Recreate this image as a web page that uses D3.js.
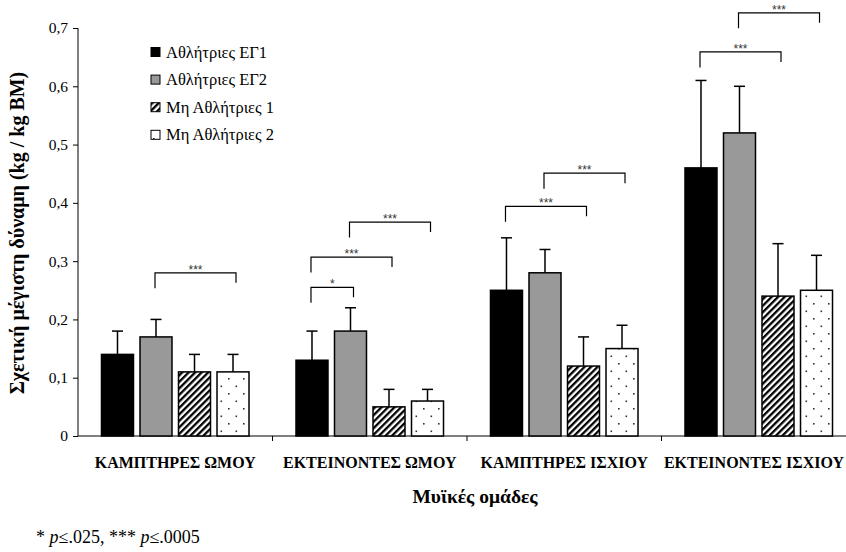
<!DOCTYPE html>
<html>
<head>
<meta charset="utf-8">
<script src="https://cdn.jsdelivr.net/npm/d3@7/dist/d3.min.js"></script>
<style>
  html, body { margin: 0; padding: 0; background: #fff; }
  svg { display: block; }
</style>
</head>
<body>
<script>
const categories = ["ΚΑΜΠΤΗΡΕΣ ΩΜΟΥ", "ΕΚΤΕΙΝΟΝΤΕΣ ΩΜΟΥ", "ΚΑΜΠΤΗΡΕΣ ΙΣΧΙΟΥ", "ΕΚΤΕΙΝΟΝΤΕΣ ΙΣΧΙΟΥ"];
const series = ["Αθλήτριες ΕΓ1", "Αθλήτριες ΕΓ2", "Μη Αθλήτριες 1", "Μη Αθλήτριες 2"];
const meanEG1 = [0.14, 0.13, 0.25, 0.46];
const meanEG2 = [0.17, 0.18, 0.28, 0.52];
const meanNA1 = [0.11, 0.05, 0.12, 0.24];
const meanNA2 = [0.11, 0.06, 0.15, 0.25];
const sdEG1 = [0.04, 0.05, 0.09, 0.15];
const sdEG2 = [0.03, 0.04, 0.04, 0.08];
const sdNA1 = [0.03, 0.03, 0.05, 0.09];
const sdNA2 = [0.03, 0.02, 0.04, 0.06];
const yTicks = [0, 0.1, 0.2, 0.3, 0.4, 0.5, 0.6, 0.7];
const brackCat = [0, 1, 1, 1, 2, 2, 3, 3];
const brackFrom = [1, 0, 0, 1, 0, 1, 0, 1];
const brackTo = [3, 1, 2, 3, 2, 3, 2, 3];
const brackLevel = [0.28, 0.255, 0.307, 0.367, 0.394, 0.451, 0.659, 0.726];
const brackLabel = ["***", "*", "***", "***", "***", "***", "***", "***"];
const yTitle = "Σχετική μέγιστη δύναμη (kg / kg BM)";
const xTitle = "Μυϊκές ομάδες";

const means = [meanEG1, meanEG2, meanNA1, meanNA2];
const sds = [sdEG1, sdEG2, sdNA1, sdNA2];

const W = 846, H = 552;
const svg = d3.select("body").append("svg").attr("width", W).attr("height", H);
const defs = svg.append("defs");

// hatch pattern
const hatch = defs.append("pattern").attr("id", "hatch")
  .attr("patternUnits", "userSpaceOnUse").attr("width", 4.6).attr("height", 4.6)
  .attr("patternTransform", "rotate(45)");
hatch.append("rect").attr("width", 4.6).attr("height", 4.6).attr("fill", "#fff");
hatch.append("rect").attr("width", 2.3).attr("height", 4.6).attr("fill", "#000");

// dotted pattern
const dots = defs.append("pattern").attr("id", "dots")
  .attr("patternUnits", "userSpaceOnUse").attr("width", 15).attr("height", 15);
dots.append("rect").attr("width", 15).attr("height", 15).attr("fill", "#fff");
dots.append("rect").attr("x", 3).attr("y", 3).attr("width", 1.6).attr("height", 1.6).attr("fill", "#333");
dots.append("rect").attr("x", 10.5).attr("y", 10.5).attr("width", 1.6).attr("height", 1.6).attr("fill", "#333");

const fills = ["#000000", "#999999", "url(#hatch)", "url(#dots)"];

const x0 = d3.scaleBand().domain(categories).range([78, 856]).paddingInner(0).paddingOuter(0);
const x1 = d3.scaleBand().domain(series).range([0, x0.bandwidth()]).paddingInner(0.169).paddingOuter(0.61);
const y = d3.scaleLinear().domain([0, 0.7]).range([436, 28]);

const serif = "'Liberation Serif', 'Times New Roman', serif";

// Y axis
const yAxis = svg.append("g").attr("transform", "translate(78,0)")
  .call(d3.axisLeft(y).tickValues(yTicks).tickSize(5).tickPadding(5)
    .tickFormat(d => d === 0 ? "0" : d3.format(".1f")(d).replace(".", ",")));
yAxis.select(".domain").attr("d", `M-0,${y(0.7)}V${y(0)}`).attr("stroke", "#000").attr("stroke-width", 1);
yAxis.selectAll(".tick line").attr("stroke", "#000");
yAxis.selectAll(".tick text").attr("font-family", serif).attr("font-size", 15.5).attr("fill", "#000");

// X axis
const bounds = categories.slice(1).map(c => x0(c));
const xAxisG = svg.append("g").attr("transform", `translate(0,${y(0)})`);
xAxisG.append("line").attr("x1", 78).attr("x2", W).attr("y1", 0).attr("y2", 0).attr("stroke", "#000");
xAxisG.selectAll("line.tk").data(bounds).enter().append("line").attr("class", "tk")
  .attr("x1", d => d).attr("x2", d => d).attr("y1", 0).attr("y2", 5).attr("stroke", "#000");
xAxisG.selectAll("text.cat").data(categories).enter().append("text").attr("class", "cat")
  .attr("x", d => x0(d) + x0.bandwidth() / 2).attr("y", 32)
  .attr("text-anchor", "middle").attr("font-family", serif).attr("font-weight", "bold")
  .attr("font-size", 16).attr("fill", "#000").text(d => d)
  .each(function () {
    const t = d3.select(this);
    const len = this.getComputedTextLength();
    const xc = +t.attr("x");
    if (xc + len / 2 > W - 2) t.attr("x", W - 2 - len / 2);
  });

// Bars
const barData = [];
series.forEach((s, si) => categories.forEach((c, ci) => {
  barData.push({ s, si, c, ci, v: means[si][ci], sd: sds[si][ci] });
}));

const cx = d => x0(d.c) + x1(d.s) + x1.bandwidth() / 2;

// error bars
const eb = svg.append("g");
eb.selectAll("line.v").data(barData).enter().append("line")
  .attr("x1", cx).attr("x2", cx).attr("y1", d => y(d.v)).attr("y2", d => y(d.v + d.sd))
  .attr("stroke", "#000").attr("stroke-width", 1.5);
eb.selectAll("line.h").data(barData).enter().append("line")
  .attr("x1", d => cx(d) - 5.5).attr("x2", d => cx(d) + 5.5).attr("y1", d => y(d.v + d.sd)).attr("y2", d => y(d.v + d.sd))
  .attr("stroke", "#000").attr("stroke-width", 1.5);

svg.append("g").selectAll("rect").data(barData).enter().append("rect")
  .attr("x", d => x0(d.c) + x1(d.s)).attr("width", x1.bandwidth())
  .attr("y", d => y(d.v)).attr("height", d => y(0) - y(d.v))
  .attr("fill", d => fills[d.si]).attr("stroke", "#000").attr("stroke-width", 1.5);

// Significance brackets
const bg = svg.append("g");
brackCat.forEach((ci, i) => {
  const c = categories[ci];
  const xl = x0(c) + x1(series[brackFrom[i]]) + x1.bandwidth() / 2 - 1;
  const xr = x0(c) + x1(series[brackTo[i]]) + x1.bandwidth() / 2 + 3;
  const yy = y(brackLevel[i]);
  bg.append("path").attr("d", `M${xl},${yy + 15.5}V${yy}H${xr}V${yy + 10}`)
    .attr("fill", "none").attr("stroke", "#000").attr("stroke-width", 1.2);
  bg.append("text").attr("x", (xl + xr) / 2).attr("y", yy + 1)
    .attr("text-anchor", "middle").attr("font-family", "'Liberation Sans', Arial, sans-serif")
    .attr("font-size", 12).attr("fill", "#333").text(brackLabel[i]);
});

// Legend
const lg = svg.append("g");
series.forEach((s, i) => {
  const yy = 52 + i * 27.6;
  lg.append("rect").attr("x", 151).attr("y", yy - 4.5).attr("width", 9).attr("height", 9)
    .attr("fill", fills[i]).attr("stroke", "#000").attr("stroke-width", 1);
  lg.append("text").attr("x", 166).attr("y", yy + 5.5).attr("font-family", serif)
    .attr("font-size", 16.5).attr("fill", "#000").text(s);
});

// Axis titles
svg.append("text").attr("transform", "translate(24,233) rotate(-90)")
  .attr("text-anchor", "middle").attr("font-family", serif).attr("font-weight", "bold")
  .attr("font-size", 20).attr("fill", "#000").text(yTitle);
svg.append("text").attr("x", 475).attr("y", 503)
  .attr("text-anchor", "middle").attr("font-family", serif).attr("font-weight", "bold")
  .attr("font-size", 19.5).attr("fill", "#000").text(xTitle);

// Footnote
const fn = svg.append("text").attr("x", 36).attr("y", 543).attr("font-family", serif)
  .attr("font-size", 18).attr("fill", "#000");
fn.append("tspan").text("* ");
fn.append("tspan").attr("font-style", "italic").text("p");
fn.append("tspan").text("≤.025, *** ");
fn.append("tspan").attr("font-style", "italic").text("p");
fn.append("tspan").text("≤.0005");
</script>
</body>
</html>
